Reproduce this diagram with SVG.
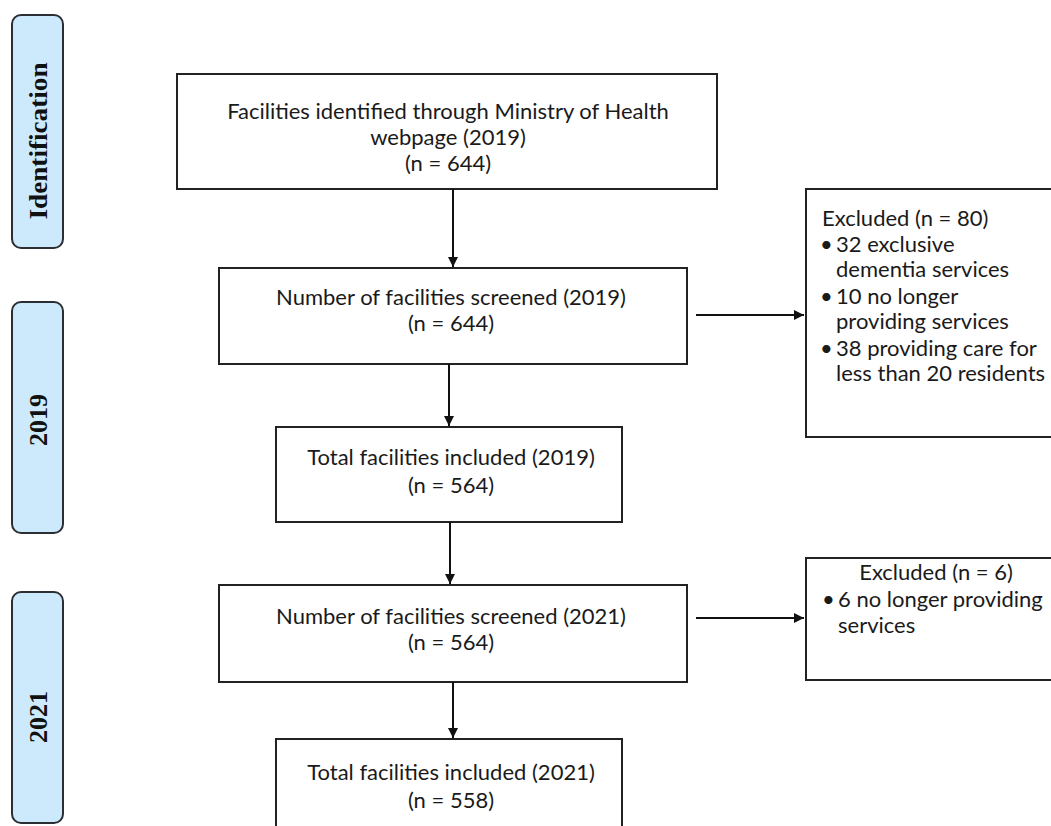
<svg xmlns="http://www.w3.org/2000/svg" width="1051" height="826" viewBox="0 0 1051 826">
<style>
.bar{fill:#cdeafc;stroke:#2b2f33;stroke-width:2}
.box{fill:#ffffff;stroke:#222;stroke-width:2}
.bt{font-family:"Liberation Serif","DejaVu Serif",serif;font-weight:bold;font-size:26px;fill:#111}
.t{font-family:Lato,"Liberation Sans",sans-serif;font-size:22px;fill:#1a1a1a}
.c{text-anchor:middle}
.ln{stroke:#111;stroke-width:2;fill:none}
</style>
<defs>
<marker id="ah" viewBox="0 0 10 10" refX="10" refY="5" markerWidth="10" markerHeight="11" markerUnits="userSpaceOnUse" orient="auto">
<path d="M0,0 L10,5 L0,10 z" fill="#111"/>
</marker>
</defs>
<rect width="1051" height="826" fill="#ffffff"/>
<g id="bar-identification">
<rect class="bar" x="12" y="15" width="51" height="233" rx="9"/>
<text class="bt c" transform="translate(47,141) rotate(-90)" textLength="157" lengthAdjust="spacingAndGlyphs">Identification</text>
</g>
<g id="bar-2019">
<rect class="bar" x="12" y="302" width="51" height="231" rx="9"/>
<text class="bt c" transform="translate(47,420) rotate(-90)">2019</text>
</g>
<g id="bar-2021">
<rect class="bar" x="12" y="592" width="51" height="231" rx="9"/>
<text class="bt c" transform="translate(47,717) rotate(-90)">2021</text>
</g>
<g id="identified">
<rect class="box" x="177" y="74" width="540" height="115"/>
<text class="t c" x="448" y="119">Facilities identified through Ministry of Health</text>
<text class="t c" x="448" y="145">webpage (2019)</text>
<text class="t c" x="448" y="171">(n = 644)</text>
</g>
<g id="screened-2019">
<rect class="box" x="219" y="268" width="468" height="96"/>
<text class="t c" x="451" y="305">Number of facilities screened (2019)</text>
<text class="t c" x="451" y="331">(n = 644)</text>
</g>
<g id="excluded-2019">
<rect class="box" x="806" y="189" width="260" height="248"/>
<text class="t" x="822" y="226">Excluded (n = 80)</text>
<text class="t" x="820" y="252">•</text>
<text class="t" x="836" y="252">32 exclusive</text>
<text class="t" x="836" y="277">dementia services</text>
<text class="t" x="820" y="304">•</text>
<text class="t" x="836" y="304">10 no longer</text>
<text class="t" x="836" y="329">providing services</text>
<text class="t" x="820" y="356">•</text>
<text class="t" x="836" y="356">38 providing care for</text>
<text class="t" x="836" y="381">less than 20 residents</text>
</g>
<g id="included-2019">
<rect class="box" x="276" y="427" width="346" height="95"/>
<text class="t c" x="451" y="465">Total facilities included (2019)</text>
<text class="t c" x="451" y="493">(n = 564)</text>
</g>
<g id="screened-2021">
<rect class="box" x="219" y="585" width="468" height="97"/>
<text class="t c" x="451" y="624">Number of facilities screened (2021)</text>
<text class="t c" x="451" y="650">(n = 564)</text>
</g>
<g id="excluded-2021">
<rect class="box" x="806" y="558" width="260" height="122"/>
<text class="t c" x="936" y="580">Excluded (n = 6)</text>
<text class="t" x="822" y="607">•</text>
<text class="t" x="838" y="607">6 no longer providing</text>
<text class="t" x="838" y="633">services</text>
</g>
<g id="included-2021">
<rect class="box" x="276" y="739" width="346" height="100"/>
<text class="t c" x="451" y="780">Total facilities included (2021)</text>
<text class="t c" x="451" y="808">(n = 558)</text>
</g>
<g id="connectors">
<line class="ln" x1="453" y1="189" x2="453" y2="267" marker-end="url(#ah)"/>
<line class="ln" x1="449" y1="364" x2="449" y2="426" marker-end="url(#ah)"/>
<line class="ln" x1="450" y1="522" x2="450" y2="584" marker-end="url(#ah)"/>
<line class="ln" x1="453" y1="682" x2="453" y2="738" marker-end="url(#ah)"/>
<line class="ln" x1="696" y1="315" x2="804" y2="315" marker-end="url(#ah)"/>
<line class="ln" x1="696" y1="618" x2="804" y2="618" marker-end="url(#ah)"/>
</g>
</svg>
